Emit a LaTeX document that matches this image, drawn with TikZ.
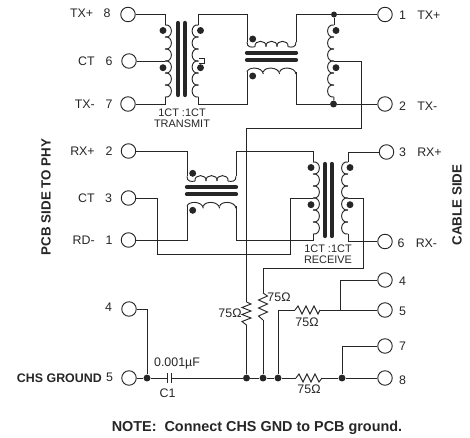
\documentclass[tikz,border=0pt]{standalone}
\usepackage{fontspec}
\setmainfont{Liberation Sans}
\definecolor{ink}{gray}{0.15}
\tikzset{
  pin/.style={draw=ink, circle, fill=white, minimum size=14.5pt*0.75, inner sep=0pt, line width=0.7pt},
  dot/.style={circle, fill=ink, minimum size=5.2pt, inner sep=0pt},
  lbl/.style={text=ink, font=\fontsize{9.3pt}{10pt}\selectfont, inner sep=0pt},
  sml/.style={text=ink, font=\fontsize{8.2pt}{9pt}\selectfont, inner sep=0pt},
  hdg/.style={text=ink, font=\fontsize{9.3pt}{10pt}\selectfont\bfseries, inner sep=0pt},
  big/.style={text=ink, font=\fontsize{10pt}{11pt}\selectfont\bfseries, inner sep=0pt},
  wire/.style={draw=ink, line width=0.7pt},
  core/.style={draw=ink, line width=3.2pt, line cap=round}
}
% winding, runs downward, #4 = 1 bulges right, -1 bulges left
\newcommand{\vcoil}[4]{
  \begin{scope}[shift={(#2,#3)}]
    \coordinate (#1top) at (0,0);
    \coordinate (#1tap) at (0,36);
    \coordinate (#1bot) at (0,72);
    \foreach \i in {0,...,5}
      \draw [wire, shift={(0,12*\i)}] (0,0) .. controls (8.5*#4,-1.5) and (8.5*#4,13.5) .. (0,12);
    \node [dot] (#1dota) at (-2*#4,5.5) {};
    \node [dot] (#1dotb) at (-2*#4,42.7) {};
  \end{scope}
}
% pair of windings with the core between them, lying down
\newcommand{\hcoil}[3]{
  \begin{scope}[shift={(#2,#3)}]
    \coordinate (#1tl) at (0,42);
    \coordinate (#1tr) at (49,42);
    \coordinate (#1bl) at (0,72);
    \coordinate (#1br) at (49,72);
    \draw [wire] (#1tl) .. controls (0,47.5) and (4,47.5) .. (8,46.7);
    \foreach \i in {0,1,2}
      \draw [wire, shift={(8+11*\i,0)}] (0,46.7) .. controls (-1,39.5) and (12,39.5) .. (11,46.7);
    \draw [wire] (41,46.7) .. controls (45,47.5) and (49,47.5) .. (#1tr);
    \foreach \i in {0,1,2}
      \draw [wire, shift={(16.33*\i,0)}] (0,72) .. controls (1,66.5) and (15.33,66.5) .. (16.33,74);
    \draw [core] (0,52.7) -- (49,52.7);
    \draw [core] (0,60) -- (49,60);
    \node [dot] (#1dota) at (5.7,39) {};
    \node [dot] (#1dotb) at (5.7,76) {};
  \end{scope}
}

\begin{document}
\begin{tikzpicture}[x=0.75pt, y=-0.75pt]
\useasboundingbox (0,0) rectangle (470,437);

% transformers
\vcoil{ta}{165}{25}{1}
\vcoil{tb}{198.5}{25}{-1}
\draw [core] (178,23) -- (178,95);
\draw [core] (185,23) -- (185,95);
\hcoil{tc}{247}{0}
\vcoil{td}{334}{25}{-1}
\hcoil{ra}{187}{134.3}
\vcoil{rb}{313}{162}{1}
\vcoil{rc}{348}{162}{-1}
\draw [core] (325,164) -- (325,236);
\draw [core] (331.7,164) -- (331.7,236);

% PCB side pins
\node [pin] (pTXp) at (128,14.5) {};
\node [pin] (pTCT) at (129,61) {};
\node [pin] (pTXn) at (128,104) {};
\node [pin] (pRXp) at (128.5,151) {};
\node [pin] (pRCT) at (128.5,198) {};
\node [pin] (pRDn) at (128.5,240) {};
\node [pin] (pChA) at (129,309) {};
\node [pin] (pChB) at (129,378) {};

% cable side pins
\node [pin] (cTXp) at (385,14.5) {};
\node [pin] (cTXn) at (385,104) {};
\node [pin] (cRXp) at (386.5,152) {};
\node [pin] (cRXn) at (385,241.5) {};
\node [pin] (cFour) at (385,280) {};
\node [pin] (cFive) at (385,310) {};
\node [pin] (cSeven) at (385,346) {};
\node [pin] (cEight) at (385,378) {};

% junctions
\node [dot, minimum size=4.5pt] (jTop) at (334,14.5) {};
\node [dot] (jBot) at (333.5,104) {};
\node [dot] (jCap) at (147,378) {};
\node [dot] (jA) at (246.5,378) {};
\node [dot] (jB) at (263,378) {};
\node [dot] (jC) at (278,378) {};
\node [dot] (jD) at (342,378) {};
\coordinate (jE) at (340.5,310);

% resistors
\coordinate (rAt) at (246.5,302);
\coordinate (rAb) at (246.5,325);
\coordinate (rBt) at (263,293);
\coordinate (rBb) at (263,320);
\coordinate (rCl) at (295,310);
\coordinate (rCr) at (320,310);
\coordinate (rDl) at (296,378);
\coordinate (rDr) at (322,378);
\draw [wire] (rAt) -- ++(4.5,2) -- ++(-9,3.5) -- ++(9,3.5) -- ++(-9,3.5) -- ++(9,3.5) -- ++(-9,3.5) -- (rAb);
\draw [wire] (rBt) -- ++(4.5,3) -- ++(-9,4) -- ++(9,4) -- ++(-9,4) -- ++(9,4) -- ++(-9,4) -- (rBb);
\draw [wire] (rCl) -- ++(3,-4) -- ++(4,8) -- ++(4,-8) -- ++(4,8) -- ++(4,-8) -- ++(4,8) -- (rCr);
\draw [wire] (rDl) -- ++(3,-4) -- ++(4,8) -- ++(4,-8) -- ++(4,8) -- ++(4,-8) -- ++(4,8) -- (rDr);

% capacitor
\coordinate (capL) at (167.7,378);
\coordinate (capR) at (171.7,378);
\draw [wire] (167.7,373) -- (167.7,383);
\draw [wire] (171.7,373) -- (171.7,383);

% transmit wiring
\draw [wire] (pTXp) -| (tatop);
\draw [wire] (pTCT) -- (tatap);
\draw [wire] (pTXn) -| (tabot);
\draw [wire] (tbtop) |- (247,14.5) -- (tctl);
\draw [wire] (tbbot) |- (247,104) -- (tcbl);
\draw [wire] (tbtap) ++(0,-3) -- ++(6,0) -- ++(0,5) -- ++(-6,0);
\draw [wire] (tctr) |- (jTop);
\draw [wire] (jTop) -- (cTXp);
\draw [wire] (jTop) -- (tdtop);
\draw [wire] (tcbr) |- (jBot);
\draw [wire] (jBot) -- (cTXn);
\draw [wire] (jBot) -- (tdbot);
\draw [wire] (tdtap) -- (361,61) |- (246.5,128) -- (rAt);

% receive wiring
\draw [wire] (pRXp) -| (ratl);
\draw [wire] (pRDn) -| (rabl);
\draw [wire] (ratr) |- (313,151) -- (rbtop);
\draw [wire] (rabr) |- (313,240) -- (rbbot);
\draw [wire] (pRCT) -| (157.3,254) -| (290.7,198) -- (rbtap);
\draw [wire] (rctop) |- (cRXp);
\draw [wire] (rcbot) |- (cRXn);
\draw [wire] (rctap) -- (363.3,198) |- (263,268) -- (rBt);

% chassis wiring
\draw [wire] (pChA) -| (jCap);
\draw [wire] (pChB) -- (jCap);
\draw [wire] (jCap) -- (capL);
\draw [wire] (capR) -- (jA);
\draw [wire] (jA) -- (jB);
\draw [wire] (jB) -- (jC);
\draw [wire] (rAb) -- (jA);
\draw [wire] (rBb) -- (jB);
\draw [wire] (jC) |- (rCl);
\draw [wire] (jC) -- (rDl);
\draw [wire] (rCr) -- (cFive);
\draw [wire] (jE) |- (cFour);
\draw [wire] (rDr) -- (jD);
\draw [wire] (jD) -- (cEight);
\draw [wire] (jD) |- (cSeven);

% left labels
\node [lbl, anchor=east] (lTXp) at (93.5,13.5) {TX+};
\node [lbl] (nEight) at (107,13.5) {8};
\node [lbl, anchor=east] (lTCT) at (95,61) {CT};
\node [lbl] (nSix) at (109,61) {6};
\node [lbl, anchor=east] (lTXn) at (95,104.5) {TX-};
\node [lbl] (nSeven) at (109,104.5) {7};
\node [lbl, anchor=east] (lRXp) at (95,151) {RX+};
\node [lbl] (nTwo) at (109,151) {2};
\node [lbl, anchor=east] (lRCT) at (95,198.5) {CT};
\node [lbl] (nThree) at (108.5,198.5) {3};
\node [lbl, anchor=east] (lRDn) at (95,240.5) {RD-};
\node [lbl] (nOne) at (109,240.5) {1};
\node [lbl] (nFourL) at (108.5,307.5) {4};
\node [lbl] (nFiveL) at (109.5,377.5) {5};
\node [hdg, anchor=east] (lChs) at (102,378.5) {CHS GROUND};

% right labels
\node [lbl] (nOneR) at (402.5,15.5) {1};
\node [lbl, anchor=west] (rTXp) at (417,15.5) {TX+};
\node [lbl] (nTwoR) at (402.5,106) {2};
\node [lbl, anchor=west] (rTXn) at (417,106) {TX-};
\node [lbl] (nThreeR) at (402.5,152.5) {3};
\node [lbl, anchor=west] (rRXp) at (417,152.5) {RX+};
\node [lbl] (nSixR) at (401,243) {6};
\node [lbl, anchor=west] (rRXn) at (415.5,243) {RX-};
\node [lbl] (nFourR) at (402.5,281) {4};
\node [lbl] (nFiveR) at (402.5,311) {5};
\node [lbl] (nSevenR) at (402.5,346.5) {7};
\node [lbl] (nEightR) at (402.5,380) {8};

% side titles
\node [big, rotate=90] (sPcb) at (46,197) {PCB SIDE TO PHY};
\node [big, rotate=90] (sCable) at (457,205) {CABLE SIDE};

% transformer and part labels
\node [sml] (tRatio) at (182,112.5) {1CT :1CT};
\node [sml] (tName) at (182,123.5) {TRANSMIT};
\node [sml] (rRatio) at (328,248.5) {1CT :1CT};
\node [sml] (rName) at (328,260) {RECEIVE};
\node [lbl] (vA) at (230,313.5) {75Ω};
\node [lbl] (vB) at (279,297.5) {75Ω};
\node [lbl] (vC) at (307,322) {75Ω};
\node [lbl] (vD) at (309,389) {75Ω};
\node [lbl] (vCap) at (177,363) {0.001µF};
\node [lbl] (nCap) at (167.5,393.5) {C1};
\node [big, font=\fontsize{10.8pt}{12pt}\selectfont\bfseries] (nNote) at (257,428) {NOTE:\ \ Connect CHS GND to PCB ground.};
\end{tikzpicture}
\end{document}
